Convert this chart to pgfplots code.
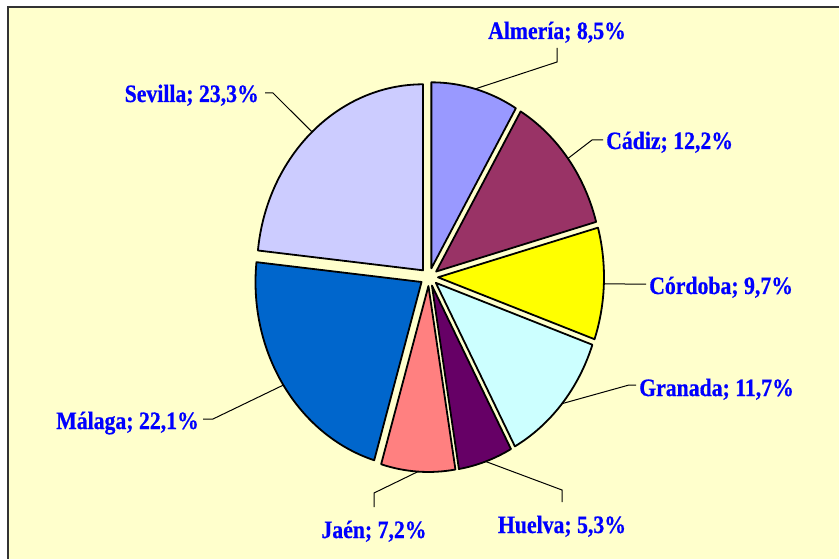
\documentclass[border=0pt]{standalone}
\usepackage{fontspec}
\setmainfont{Liberation Serif}[FakeStretch=0.87,BoldFeatures={FakeBold=0.6}]
\usepackage{pgfplots}
\pgfplotsset{compat=1.18}
\usepackage{pgfplotstable}

\definecolor{bgyellow}{HTML}{FFFFCC}
\definecolor{framegray}{HTML}{333333}
\definecolor{labelblue}{HTML}{0000FF}
\definecolor{cAlm}{HTML}{9999FF}
\definecolor{cCad}{HTML}{993366}
\definecolor{cCor}{HTML}{FFFF00}
\definecolor{cGra}{HTML}{CCFFFF}
\definecolor{cHue}{HTML}{660066}
\definecolor{cJae}{HTML}{FF8080}
\definecolor{cMal}{HTML}{0066CC}
\definecolor{cSev}{HTML}{CCCCFF}

% share per province; leader elbow, leader end and label position in pixels
\pgfplotstableread[col sep=comma]{
name,value,col,ex,ey,lx,ly,tx,ty,anc
Almería,8.5,cAlm,557,62,557,48,557,39,base
Cádiz,12.2,cCad,592,140,603,140,606,149,base west
Córdoba,9.7,cCor,625,284,646,284,649,294,base west
Granada,11.7,cGra,629,385,636,385,639,396,base west
Huelva,5.3,cHue,562,490,562,502,562,533,base
Jaén,7.2,cJae,374,493,374,507,374,538,base
Málaga,22.1,cMal,213,419,203,419,199,429,base east
Sevilla,23.3,cSev,273,93,265,93,259,102,base east
}\piedata

\def\cx{429}\def\cy{277}
\def\Rx{166}\def\Ry{186}
\def\exx{9}\def\eyy{9}

\def\piecmds{}
\def\startang{90}
\pgfplotstablegetrowsof{\piedata}
\pgfmathtruncatemacro\lastrow{\pgfplotsretval-1}
\pgfplotsforeachungrouped \i in {0,...,\lastrow}{%
  \pgfplotstablegetelem{\i}{value}\of\piedata \let\val\pgfplotsretval
  \pgfplotstablegetelem{\i}{name}\of\piedata \let\nm\pgfplotsretval
  \pgfplotstablegetelem{\i}{col}\of\piedata \let\col\pgfplotsretval
  \pgfplotstablegetelem{\i}{ex}\of\piedata \let\elx\pgfplotsretval
  \pgfplotstablegetelem{\i}{ey}\of\piedata \let\ely\pgfplotsretval
  \pgfplotstablegetelem{\i}{lx}\of\piedata \let\lnx\pgfplotsretval
  \pgfplotstablegetelem{\i}{ly}\of\piedata \let\lny\pgfplotsretval
  \pgfplotstablegetelem{\i}{tx}\of\piedata \let\tx\pgfplotsretval
  \pgfplotstablegetelem{\i}{ty}\of\piedata \let\ty\pgfplotsretval
  \pgfplotstablegetelem{\i}{anc}\of\piedata \let\anc\pgfplotsretval
  \pgfmathsetmacro\endang{\startang-3.6*\val}
  \pgfmathsetmacro\midang{(\startang+\endang)/2}
  \pgfmathprintnumberto[fixed,precision=1,fixed zerofill,use comma,assume math mode=true]{\val}{\valstr}
  \xdef\piecmds{\unexpanded\expandafter{\piecmds}
    \noexpand\filldraw[fill=\col,draw=black,line width=1.8pt,line join=round]
      (axis cs:\cx,\cy) ++(\midang:\exx pt and \eyy pt) -- ++(\startang:\Rx pt and \Ry pt)
      arc[start angle=\startang,end angle=\endang,x radius=\Rx pt,y radius=\Ry pt] -- cycle;
    \noexpand\draw[black,line width=1pt]
      (axis cs:\cx,\cy) ++(\midang:\exx pt and \eyy pt) ++(\midang:\Rx pt and \Ry pt)
      -- (axis cs:\elx,\ely) -- (axis cs:\lnx,\lny);
    \noexpand\node[anchor=\anc,text=labelblue,inner sep=0pt,
      font=\noexpand\fontsize{25}{30}\noexpand\selectfont\noexpand\bfseries]
      at (axis cs:\tx,\ty) {\nm; \valstr\noexpand\%};
  }%
  \let\startang\endang
}

\begin{document}
\begin{tikzpicture}
\begin{axis}[x=1pt,y=1pt,y dir=reverse,
    xmin=0,xmax=839,ymin=0,ymax=559,
    hide axis,scale only axis,clip=false]
\fill[white] (axis cs:0,0) rectangle (axis cs:839,559);
\fill[bgyellow] (axis cs:8,7) rectangle (axis cs:839,559);
\draw[framegray,line width=2.5pt] (axis cs:8,559) -- (axis cs:8,7) -- (axis cs:839,7);
\piecmds
\end{axis}
\pgfresetboundingbox
\useasboundingbox (0,0) rectangle (839pt,559pt);
\end{tikzpicture}
\end{document}
